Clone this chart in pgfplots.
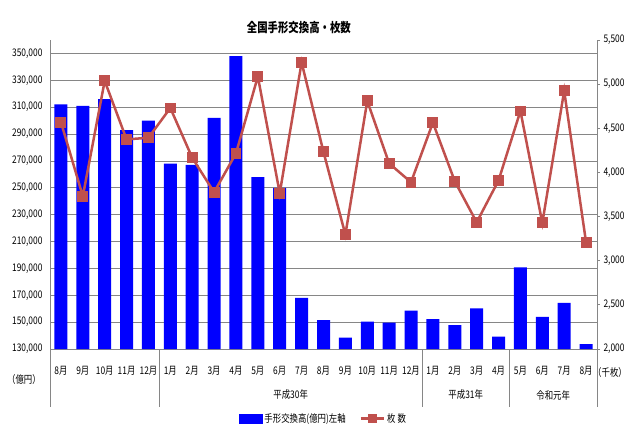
\documentclass[border=0pt]{standalone}
\usepackage{pgfplots}
\pgfplotsset{compat=1.18}
\usetikzlibrary{calc}
\usepackage{fontspec}
\setmainfont{Noto Sans CJK JP}[FakeStretch=0.8]
\definecolor{barblue}{RGB}{0,0,255}
\definecolor{linered}{RGB}{192,80,77}
\definecolor{gridgray}{RGB}{134,134,134}
\newcommand{\tf}{\fontsize{10.5bp}{12bp}\selectfont}
\pgfplotstableread{
x bar line
0 312000 4570
1 311000 3730
2 316000 5037
3 293000 4374
4 300000 4393
5 268000 4730
6 267000 4166
7 302000 3775
8 348000 4216
9 258000 5087
10 250000 3765
11 168000 5246
12 151500 4232
13 138400 3295
14 150300 4810
15 149600 4102
16 158500 3889
17 152300 4564
18 147800 3900
19 160200 3435
20 139200 3909
21 190700 4696
22 154000 3428
23 164400 4923
24 133700 3208
}\datatable
\begin{document}
\begin{tikzpicture}
\begin{axis}[
  name=ax1,
  scale only axis, width=547bp, height=309bp,
  xmin=-0.5, xmax=24.5, ymin=130000, ymax=360000,
  clip=false,
  axis y line*=left, axis x line*=bottom,
  axis line style={draw=gridgray, line width=0.8bp},
  ybar, bar width=13bp,
  ytick={130000,150000,...,350000},
  scaled y ticks=false,
  /pgf/number format/fixed, /pgf/number format/1000 sep={,},
  /pgf/number format/assume math mode=true,
  yticklabel style={font=\tf, xshift=-4bp},
  ytick style={draw=none},
  ymajorgrids, grid style={draw=gridgray, line width=0.8bp},
  xtick={0,...,24},
  xticklabels={8月,9月,10月,11月,12月,1月,2月,3月,4月,5月,6月,7月,8月,9月,10月,11月,12月,1月,2月,3月,4月,5月,6月,7月,8月},
  xticklabel style={font=\tf, anchor=center, yshift=-17.7bp},
  xtick style={draw=none},
]
\addplot[fill=barblue, draw=none] table[x=x, y=bar] {\datatable};
\foreach \p in {-0.5,4.5,16.5,20.5,24.5}{
  \edef\tmp{\noexpand\draw[draw=gridgray, line width=0.8bp] (axis cs:\p,130000) -- (axis cs:\p,87000);}\tmp
}
\node[font=\tf] at (axis cs:10.5,130000) [yshift=-46bp] {平成30年};
\node[font=\tf] at (axis cs:18.5,130000) [yshift=-46bp] {平成31年};
\node[font=\tf] at (axis cs:22.5,130000) [yshift=-46bp] {令和元年};
\node[font=\tf] at (rel axis cs:0,0) [xshift=-26bp, yshift=-31bp] {（億円）};
\node[font=\tf] at (rel axis cs:1,0) [xshift=13bp, yshift=-24bp] {（千枚）};
\node[font=\fontsize{13bp}{15bp}\selectfont\bfseries] at (rel axis cs:0.455,1) [yshift=12bp] {全国手形交換高・枚数};
\end{axis}
\begin{axis}[
  scale only axis, width=547bp, height=309bp,
  xmin=-0.5, xmax=24.5, ymin=2000, ymax=5500,
  axis y line*=right, axis x line=none,
  axis line style={draw=gridgray, line width=0.8bp},
  ytick={2000,2500,...,5500},
  /pgf/number format/fixed, /pgf/number format/1000 sep={,},
  /pgf/number format/assume math mode=true,
  yticklabel style={font=\tf},
  ytick style={draw=gridgray, line width=0.8bp},
  tick align=outside, major tick length=3bp,
  legend style={at={(0.5,-0.225)}, anchor=center, draw=none, fill=none, font=\tf,
    legend columns=2, /tikz/every even column/.append style={column sep=12bp}},
  legend cell align=left,
]
\addlegendimage{legend image code/.code={\fill[barblue] (0bp,-4.5bp) rectangle (23bp,4.5bp);}}
\addlegendentry{手形交換高(億円)左軸}
\addplot[color=linered, line width=2.5bp, mark=square*, mark size=4.2bp,
  legend image code/.code={\draw[linered, line width=2.5bp] (0bp,0bp) -- (23bp,0bp); \fill[linered] (8bp,-3.5bp) rectangle (15bp,3.5bp);},
  mark options={solid}] table[x=x, y=line] {\datatable};
\addlegendentry{枚 数}
\end{axis}
\pgfresetboundingbox
\path[use as bounding box] ($(ax1.south west)+(-50bp,-93bp)$) rectangle ($(ax1.north east)+(43bp,40bp)$);
\end{tikzpicture}
\end{document}
